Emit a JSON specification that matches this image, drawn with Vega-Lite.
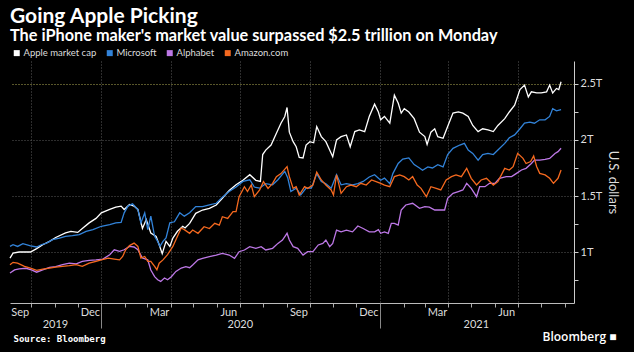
{
  "$schema": "https://vega.github.io/schema/vega-lite/v6.json",
  "width": 564,
  "height": 242,
  "autosize": {"type": "none"},
  "padding": {"left": 10, "top": 61, "right": 60, "bottom": 49},
  "background": "#000000",
  "config": {"view": {"stroke": null}, "font": "Lato"},
  "title": {
    "text": "Going Apple Picking",
    "subtitle": "The iPhone maker's market value surpassed $2.5 trillion on Monday",
    "anchor": "start",
    "frame": "group",
    "color": "#ffffff",
    "font": "Lato",
    "fontSize": 21,
    "fontWeight": "bold",
    "subtitleColor": "#ffffff",
    "subtitleFont": "Lato",
    "subtitleFontSize": 16.3,
    "subtitleFontWeight": "bold",
    "subtitlePadding": 1,
    "offset": 3.5
  },
  "resolve": {"axis": {"x": "independent"}},
  "layer": [
    {
      "data": {"values": [
        {"d":"2019-09-03","s":"Apple market cap","v":0.946},{"d":"2019-09-07","s":"Apple market cap","v":0.99},{"d":"2019-09-15","s":"Apple market cap","v":1.0},{"d":"2019-09-30","s":"Apple market cap","v":1.0},{"d":"2019-10-08","s":"Apple market cap","v":1.03},{"d":"2019-10-16","s":"Apple market cap","v":1.065},{"d":"2019-10-25","s":"Apple market cap","v":1.095},{"d":"2019-11-02","s":"Apple market cap","v":1.13},{"d":"2019-11-15","s":"Apple market cap","v":1.17},{"d":"2019-11-22","s":"Apple market cap","v":1.185},{"d":"2019-12-01","s":"Apple market cap","v":1.175},{"d":"2019-12-07","s":"Apple market cap","v":1.21},{"d":"2019-12-16","s":"Apple market cap","v":1.26},{"d":"2019-12-25","s":"Apple market cap","v":1.30},{"d":"2020-01-01","s":"Apple market cap","v":1.35},{"d":"2020-01-12","s":"Apple market cap","v":1.38},{"d":"2020-01-20","s":"Apple market cap","v":1.40},{"d":"2020-01-27","s":"Apple market cap","v":1.41},{"d":"2020-01-31","s":"Apple market cap","v":1.38},{"d":"2020-02-07","s":"Apple market cap","v":1.425},{"d":"2020-02-13","s":"Apple market cap","v":1.41},{"d":"2020-02-18","s":"Apple market cap","v":1.38},{"d":"2020-02-24","s":"Apple market cap","v":1.21},{"d":"2020-02-29","s":"Apple market cap","v":1.29},{"d":"2020-03-06","s":"Apple market cap","v":1.17},{"d":"2020-03-13","s":"Apple market cap","v":1.14},{"d":"2020-03-17","s":"Apple market cap","v":1.065},{"d":"2020-03-21","s":"Apple market cap","v":0.985},{"d":"2020-03-26","s":"Apple market cap","v":1.095},{"d":"2020-03-31","s":"Apple market cap","v":1.05},{"d":"2020-04-04","s":"Apple market cap","v":1.125},{"d":"2020-04-10","s":"Apple market cap","v":1.185},{"d":"2020-04-17","s":"Apple market cap","v":1.23},{"d":"2020-04-20","s":"Apple market cap","v":1.215},{"d":"2020-04-26","s":"Apple market cap","v":1.256},{"d":"2020-05-04","s":"Apple market cap","v":1.345},{"d":"2020-05-13","s":"Apple market cap","v":1.375},{"d":"2020-05-22","s":"Apple market cap","v":1.39},{"d":"2020-05-31","s":"Apple market cap","v":1.42},{"d":"2020-06-08","s":"Apple market cap","v":1.48},{"d":"2020-06-17","s":"Apple market cap","v":1.55},{"d":"2020-06-26","s":"Apple market cap","v":1.60},{"d":"2020-07-05","s":"Apple market cap","v":1.64},{"d":"2020-07-14","s":"Apple market cap","v":1.69},{"d":"2020-07-22","s":"Apple market cap","v":1.64},{"d":"2020-07-28","s":"Apple market cap","v":1.63},{"d":"2020-07-31","s":"Apple market cap","v":1.87},{"d":"2020-08-04","s":"Apple market cap","v":1.91},{"d":"2020-08-11","s":"Apple market cap","v":1.955},{"d":"2020-08-18","s":"Apple market cap","v":2.06},{"d":"2020-08-24","s":"Apple market cap","v":2.15},{"d":"2020-08-29","s":"Apple market cap","v":2.21},{"d":"2020-09-01","s":"Apple market cap","v":2.29},{"d":"2020-09-04","s":"Apple market cap","v":2.07},{"d":"2020-09-09","s":"Apple market cap","v":1.985},{"d":"2020-09-13","s":"Apple market cap","v":1.94},{"d":"2020-09-17","s":"Apple market cap","v":1.845},{"d":"2020-09-22","s":"Apple market cap","v":1.84},{"d":"2020-09-26","s":"Apple market cap","v":1.955},{"d":"2020-10-01","s":"Apple market cap","v":1.985},{"d":"2020-10-06","s":"Apple market cap","v":1.975},{"d":"2020-10-10","s":"Apple market cap","v":2.12},{"d":"2020-10-16","s":"Apple market cap","v":2.03},{"d":"2020-10-22","s":"Apple market cap","v":1.985},{"d":"2020-10-27","s":"Apple market cap","v":1.91},{"d":"2020-10-31","s":"Apple market cap","v":1.85},{"d":"2020-11-05","s":"Apple market cap","v":2.0},{"d":"2020-11-11","s":"Apple market cap","v":2.03},{"d":"2020-11-18","s":"Apple market cap","v":2.045},{"d":"2020-11-23","s":"Apple market cap","v":1.94},{"d":"2020-11-29","s":"Apple market cap","v":2.075},{"d":"2020-12-05","s":"Apple market cap","v":2.09},{"d":"2020-12-12","s":"Apple market cap","v":2.075},{"d":"2020-12-18","s":"Apple market cap","v":2.21},{"d":"2020-12-25","s":"Apple market cap","v":2.32},{"d":"2020-12-30","s":"Apple market cap","v":2.25},{"d":"2021-01-02","s":"Apple market cap","v":2.18},{"d":"2021-01-07","s":"Apple market cap","v":2.21},{"d":"2021-01-14","s":"Apple market cap","v":2.15},{"d":"2021-01-20","s":"Apple market cap","v":2.40},{"d":"2021-01-25","s":"Apple market cap","v":2.33},{"d":"2021-01-29","s":"Apple market cap","v":2.24},{"d":"2021-02-02","s":"Apple market cap","v":2.28},{"d":"2021-02-08","s":"Apple market cap","v":2.25},{"d":"2021-02-15","s":"Apple market cap","v":2.19},{"d":"2021-02-22","s":"Apple market cap","v":2.07},{"d":"2021-03-01","s":"Apple market cap","v":2.03},{"d":"2021-03-04","s":"Apple market cap","v":1.96},{"d":"2021-03-09","s":"Apple market cap","v":2.07},{"d":"2021-03-14","s":"Apple market cap","v":2.10},{"d":"2021-03-18","s":"Apple market cap","v":2.03},{"d":"2021-03-25","s":"Apple market cap","v":2.015},{"d":"2021-03-31","s":"Apple market cap","v":2.12},{"d":"2021-04-07","s":"Apple market cap","v":2.24},{"d":"2021-04-14","s":"Apple market cap","v":2.25},{"d":"2021-04-20","s":"Apple market cap","v":2.24},{"d":"2021-04-27","s":"Apple market cap","v":2.21},{"d":"2021-05-03","s":"Apple market cap","v":2.13},{"d":"2021-05-10","s":"Apple market cap","v":2.075},{"d":"2021-05-16","s":"Apple market cap","v":2.10},{"d":"2021-05-23","s":"Apple market cap","v":2.09},{"d":"2021-05-30","s":"Apple market cap","v":2.075},{"d":"2021-06-05","s":"Apple market cap","v":2.13},{"d":"2021-06-14","s":"Apple market cap","v":2.19},{"d":"2021-06-20","s":"Apple market cap","v":2.25},{"d":"2021-06-27","s":"Apple market cap","v":2.31},{"d":"2021-07-04","s":"Apple market cap","v":2.45},{"d":"2021-07-10","s":"Apple market cap","v":2.49},{"d":"2021-07-15","s":"Apple market cap","v":2.385},{"d":"2021-07-19","s":"Apple market cap","v":2.43},{"d":"2021-07-26","s":"Apple market cap","v":2.42},{"d":"2021-08-01","s":"Apple market cap","v":2.42},{"d":"2021-08-08","s":"Apple market cap","v":2.43},{"d":"2021-08-12","s":"Apple market cap","v":2.49},{"d":"2021-08-16","s":"Apple market cap","v":2.42},{"d":"2021-08-21","s":"Apple market cap","v":2.46},{"d":"2021-08-24","s":"Apple market cap","v":2.45},{"d":"2021-08-27","s":"Apple market cap","v":2.52},

        {"d":"2019-09-03","s":"Microsoft","v":1.05},{"d":"2019-09-07","s":"Microsoft","v":1.065},{"d":"2019-09-13","s":"Microsoft","v":1.05},{"d":"2019-09-20","s":"Microsoft","v":1.075},{"d":"2019-09-30","s":"Microsoft","v":1.055},{"d":"2019-10-08","s":"Microsoft","v":1.045},{"d":"2019-10-14","s":"Microsoft","v":1.065},{"d":"2019-10-21","s":"Microsoft","v":1.08},{"d":"2019-10-29","s":"Microsoft","v":1.11},{"d":"2019-11-07","s":"Microsoft","v":1.125},{"d":"2019-11-15","s":"Microsoft","v":1.14},{"d":"2019-11-24","s":"Microsoft","v":1.146},{"d":"2019-12-03","s":"Microsoft","v":1.155},{"d":"2019-12-12","s":"Microsoft","v":1.185},{"d":"2019-12-21","s":"Microsoft","v":1.20},{"d":"2020-01-01","s":"Microsoft","v":1.23},{"d":"2020-01-12","s":"Microsoft","v":1.245},{"d":"2020-01-20","s":"Microsoft","v":1.26},{"d":"2020-01-27","s":"Microsoft","v":1.265},{"d":"2020-01-31","s":"Microsoft","v":1.35},{"d":"2020-02-05","s":"Microsoft","v":1.41},{"d":"2020-02-11","s":"Microsoft","v":1.43},{"d":"2020-02-18","s":"Microsoft","v":1.38},{"d":"2020-02-22","s":"Microsoft","v":1.26},{"d":"2020-02-27","s":"Microsoft","v":1.35},{"d":"2020-03-02","s":"Microsoft","v":1.20},{"d":"2020-03-06","s":"Microsoft","v":1.32},{"d":"2020-03-11","s":"Microsoft","v":1.14},{"d":"2020-03-15","s":"Microsoft","v":1.095},{"d":"2020-03-18","s":"Microsoft","v":1.05},{"d":"2020-03-22","s":"Microsoft","v":1.095},{"d":"2020-03-26","s":"Microsoft","v":1.125},{"d":"2020-03-31","s":"Microsoft","v":1.26},{"d":"2020-04-06","s":"Microsoft","v":1.27},{"d":"2020-04-13","s":"Microsoft","v":1.35},{"d":"2020-04-19","s":"Microsoft","v":1.32},{"d":"2020-04-26","s":"Microsoft","v":1.35},{"d":"2020-05-04","s":"Microsoft","v":1.405},{"d":"2020-05-13","s":"Microsoft","v":1.405},{"d":"2020-05-22","s":"Microsoft","v":1.42},{"d":"2020-05-31","s":"Microsoft","v":1.435},{"d":"2020-06-08","s":"Microsoft","v":1.49},{"d":"2020-06-17","s":"Microsoft","v":1.54},{"d":"2020-06-26","s":"Microsoft","v":1.58},{"d":"2020-07-05","s":"Microsoft","v":1.63},{"d":"2020-07-14","s":"Microsoft","v":1.645},{"d":"2020-07-20","s":"Microsoft","v":1.58},{"d":"2020-07-27","s":"Microsoft","v":1.57},{"d":"2020-08-04","s":"Microsoft","v":1.61},{"d":"2020-08-13","s":"Microsoft","v":1.60},{"d":"2020-08-20","s":"Microsoft","v":1.645},{"d":"2020-08-29","s":"Microsoft","v":1.72},{"d":"2020-09-02","s":"Microsoft","v":1.66},{"d":"2020-09-06","s":"Microsoft","v":1.54},{"d":"2020-09-13","s":"Microsoft","v":1.57},{"d":"2020-09-19","s":"Microsoft","v":1.51},{"d":"2020-09-26","s":"Microsoft","v":1.57},{"d":"2020-10-03","s":"Microsoft","v":1.57},{"d":"2020-10-10","s":"Microsoft","v":1.70},{"d":"2020-10-16","s":"Microsoft","v":1.63},{"d":"2020-10-22","s":"Microsoft","v":1.61},{"d":"2020-10-29","s":"Microsoft","v":1.57},{"d":"2020-11-05","s":"Microsoft","v":1.69},{"d":"2020-11-11","s":"Microsoft","v":1.60},{"d":"2020-11-18","s":"Microsoft","v":1.61},{"d":"2020-11-26","s":"Microsoft","v":1.60},{"d":"2020-12-03","s":"Microsoft","v":1.61},{"d":"2020-12-10","s":"Microsoft","v":1.63},{"d":"2020-12-18","s":"Microsoft","v":1.67},{"d":"2020-12-25","s":"Microsoft","v":1.69},{"d":"2021-01-02","s":"Microsoft","v":1.64},{"d":"2021-01-07","s":"Microsoft","v":1.66},{"d":"2021-01-14","s":"Microsoft","v":1.61},{"d":"2021-01-18","s":"Microsoft","v":1.70},{"d":"2021-01-25","s":"Microsoft","v":1.79},{"d":"2021-01-31","s":"Microsoft","v":1.83},{"d":"2021-02-08","s":"Microsoft","v":1.84},{"d":"2021-02-15","s":"Microsoft","v":1.78},{"d":"2021-02-22","s":"Microsoft","v":1.75},{"d":"2021-02-26","s":"Microsoft","v":1.73},{"d":"2021-03-05","s":"Microsoft","v":1.76},{"d":"2021-03-11","s":"Microsoft","v":1.75},{"d":"2021-03-18","s":"Microsoft","v":1.78},{"d":"2021-03-25","s":"Microsoft","v":1.76},{"d":"2021-03-31","s":"Microsoft","v":1.87},{"d":"2021-04-07","s":"Microsoft","v":1.925},{"d":"2021-04-16","s":"Microsoft","v":1.955},{"d":"2021-04-22","s":"Microsoft","v":1.97},{"d":"2021-04-27","s":"Microsoft","v":1.91},{"d":"2021-05-03","s":"Microsoft","v":1.88},{"d":"2021-05-10","s":"Microsoft","v":1.82},{"d":"2021-05-16","s":"Microsoft","v":1.87},{"d":"2021-05-23","s":"Microsoft","v":1.88},{"d":"2021-05-30","s":"Microsoft","v":1.87},{"d":"2021-06-05","s":"Microsoft","v":1.91},{"d":"2021-06-14","s":"Microsoft","v":1.97},{"d":"2021-06-20","s":"Microsoft","v":2.02},{"d":"2021-06-27","s":"Microsoft","v":2.045},{"d":"2021-07-04","s":"Microsoft","v":2.10},{"d":"2021-07-10","s":"Microsoft","v":2.15},{"d":"2021-07-17","s":"Microsoft","v":2.16},{"d":"2021-07-23","s":"Microsoft","v":2.15},{"d":"2021-07-30","s":"Microsoft","v":2.18},{"d":"2021-08-06","s":"Microsoft","v":2.18},{"d":"2021-08-12","s":"Microsoft","v":2.21},{"d":"2021-08-16","s":"Microsoft","v":2.28},{"d":"2021-08-21","s":"Microsoft","v":2.26},{"d":"2021-08-27","s":"Microsoft","v":2.27},

        {"d":"2019-09-03","s":"Alphabet","v":0.8125},{"d":"2019-09-09","s":"Alphabet","v":0.84},{"d":"2019-09-15","s":"Alphabet","v":0.85},{"d":"2019-09-24","s":"Alphabet","v":0.855},{"d":"2019-10-01","s":"Alphabet","v":0.84},{"d":"2019-10-08","s":"Alphabet","v":0.82},{"d":"2019-10-16","s":"Alphabet","v":0.84},{"d":"2019-10-25","s":"Alphabet","v":0.863},{"d":"2019-11-02","s":"Alphabet","v":0.87},{"d":"2019-11-11","s":"Alphabet","v":0.887},{"d":"2019-11-20","s":"Alphabet","v":0.90},{"d":"2019-11-29","s":"Alphabet","v":0.895},{"d":"2019-12-07","s":"Alphabet","v":0.917},{"d":"2019-12-16","s":"Alphabet","v":0.925},{"d":"2019-12-25","s":"Alphabet","v":0.93},{"d":"2020-01-03","s":"Alphabet","v":0.937},{"d":"2020-01-12","s":"Alphabet","v":0.976},{"d":"2020-01-18","s":"Alphabet","v":1.02},{"d":"2020-01-25","s":"Alphabet","v":1.006},{"d":"2020-01-31","s":"Alphabet","v":1.02},{"d":"2020-02-07","s":"Alphabet","v":1.05},{"d":"2020-02-13","s":"Alphabet","v":1.045},{"d":"2020-02-18","s":"Alphabet","v":1.02},{"d":"2020-02-24","s":"Alphabet","v":0.946},{"d":"2020-03-02","s":"Alphabet","v":0.93},{"d":"2020-03-06","s":"Alphabet","v":0.84},{"d":"2020-03-11","s":"Alphabet","v":0.78},{"d":"2020-03-15","s":"Alphabet","v":0.753},{"d":"2020-03-19","s":"Alphabet","v":0.738},{"d":"2020-03-24","s":"Alphabet","v":0.768},{"d":"2020-03-28","s":"Alphabet","v":0.753},{"d":"2020-04-02","s":"Alphabet","v":0.78},{"d":"2020-04-08","s":"Alphabet","v":0.827},{"d":"2020-04-15","s":"Alphabet","v":0.857},{"d":"2020-04-21","s":"Alphabet","v":0.87},{"d":"2020-04-26","s":"Alphabet","v":0.86},{"d":"2020-04-30","s":"Alphabet","v":0.884},{"d":"2020-05-07","s":"Alphabet","v":0.93},{"d":"2020-05-13","s":"Alphabet","v":0.943},{"d":"2020-05-22","s":"Alphabet","v":0.958},{"d":"2020-05-31","s":"Alphabet","v":0.973},{"d":"2020-06-08","s":"Alphabet","v":0.988},{"d":"2020-06-17","s":"Alphabet","v":0.973},{"d":"2020-06-24","s":"Alphabet","v":0.943},{"d":"2020-06-30","s":"Alphabet","v":1.003},{"d":"2020-07-07","s":"Alphabet","v":1.018},{"d":"2020-07-14","s":"Alphabet","v":1.048},{"d":"2020-07-22","s":"Alphabet","v":1.033},{"d":"2020-07-29","s":"Alphabet","v":1.048},{"d":"2020-08-04","s":"Alphabet","v":1.018},{"d":"2020-08-13","s":"Alphabet","v":1.033},{"d":"2020-08-20","s":"Alphabet","v":1.077},{"d":"2020-08-26","s":"Alphabet","v":1.107},{"d":"2020-09-01","s":"Alphabet","v":1.167},{"d":"2020-09-04","s":"Alphabet","v":1.107},{"d":"2020-09-09","s":"Alphabet","v":1.048},{"d":"2020-09-15","s":"Alphabet","v":1.033},{"d":"2020-09-22","s":"Alphabet","v":0.973},{"d":"2020-09-28","s":"Alphabet","v":1.003},{"d":"2020-10-05","s":"Alphabet","v":1.003},{"d":"2020-10-12","s":"Alphabet","v":1.063},{"d":"2020-10-18","s":"Alphabet","v":1.077},{"d":"2020-10-22","s":"Alphabet","v":1.107},{"d":"2020-10-27","s":"Alphabet","v":1.048},{"d":"2020-10-31","s":"Alphabet","v":1.077},{"d":"2020-11-05","s":"Alphabet","v":1.196},{"d":"2020-11-11","s":"Alphabet","v":1.18},{"d":"2020-11-18","s":"Alphabet","v":1.196},{"d":"2020-11-26","s":"Alphabet","v":1.18},{"d":"2020-12-03","s":"Alphabet","v":1.232},{"d":"2020-12-10","s":"Alphabet","v":1.21},{"d":"2020-12-18","s":"Alphabet","v":1.18},{"d":"2020-12-25","s":"Alphabet","v":1.18},{"d":"2020-12-30","s":"Alphabet","v":1.2},{"d":"2021-01-02","s":"Alphabet","v":1.167},{"d":"2021-01-07","s":"Alphabet","v":1.18},{"d":"2021-01-12","s":"Alphabet","v":1.167},{"d":"2021-01-16","s":"Alphabet","v":1.256},{"d":"2021-01-20","s":"Alphabet","v":1.256},{"d":"2021-01-25","s":"Alphabet","v":1.24},{"d":"2021-01-29","s":"Alphabet","v":1.375},{"d":"2021-02-04","s":"Alphabet","v":1.42},{"d":"2021-02-13","s":"Alphabet","v":1.435},{"d":"2021-02-22","s":"Alphabet","v":1.39},{"d":"2021-03-01","s":"Alphabet","v":1.405},{"d":"2021-03-07","s":"Alphabet","v":1.40},{"d":"2021-03-14","s":"Alphabet","v":1.375},{"d":"2021-03-20","s":"Alphabet","v":1.375},{"d":"2021-03-27","s":"Alphabet","v":1.375},{"d":"2021-03-31","s":"Alphabet","v":1.48},{"d":"2021-04-07","s":"Alphabet","v":1.524},{"d":"2021-04-14","s":"Alphabet","v":1.54},{"d":"2021-04-20","s":"Alphabet","v":1.554},{"d":"2021-04-25","s":"Alphabet","v":1.613},{"d":"2021-05-01","s":"Alphabet","v":1.568},{"d":"2021-05-08","s":"Alphabet","v":1.494},{"d":"2021-05-12","s":"Alphabet","v":1.583},{"d":"2021-05-19","s":"Alphabet","v":1.583},{"d":"2021-05-25","s":"Alphabet","v":1.613},{"d":"2021-06-01","s":"Alphabet","v":1.613},{"d":"2021-06-07","s":"Alphabet","v":1.658},{"d":"2021-06-16","s":"Alphabet","v":1.673},{"d":"2021-06-23","s":"Alphabet","v":1.673},{"d":"2021-06-29","s":"Alphabet","v":1.70},{"d":"2021-07-06","s":"Alphabet","v":1.732},{"d":"2021-07-12","s":"Alphabet","v":1.747},{"d":"2021-07-19","s":"Alphabet","v":1.79},{"d":"2021-07-23","s":"Alphabet","v":1.82},{"d":"2021-07-30","s":"Alphabet","v":1.82},{"d":"2021-08-06","s":"Alphabet","v":1.827},{"d":"2021-08-12","s":"Alphabet","v":1.836},{"d":"2021-08-19","s":"Alphabet","v":1.88},{"d":"2021-08-23","s":"Alphabet","v":1.896},{"d":"2021-08-27","s":"Alphabet","v":1.926},

        {"d":"2019-09-03","s":"Amazon.com","v":0.887},{"d":"2019-09-07","s":"Amazon.com","v":0.908},{"d":"2019-09-13","s":"Amazon.com","v":0.90},{"d":"2019-09-22","s":"Amazon.com","v":0.872},{"d":"2019-09-30","s":"Amazon.com","v":0.857},{"d":"2019-10-08","s":"Amazon.com","v":0.836},{"d":"2019-10-16","s":"Amazon.com","v":0.848},{"d":"2019-10-25","s":"Amazon.com","v":0.857},{"d":"2019-11-02","s":"Amazon.com","v":0.866},{"d":"2019-11-11","s":"Amazon.com","v":0.872},{"d":"2019-11-20","s":"Amazon.com","v":0.878},{"d":"2019-11-29","s":"Amazon.com","v":0.887},{"d":"2019-12-07","s":"Amazon.com","v":0.872},{"d":"2019-12-16","s":"Amazon.com","v":0.90},{"d":"2019-12-25","s":"Amazon.com","v":0.917},{"d":"2020-01-01","s":"Amazon.com","v":0.93},{"d":"2020-01-10","s":"Amazon.com","v":0.946},{"d":"2020-01-18","s":"Amazon.com","v":0.937},{"d":"2020-01-25","s":"Amazon.com","v":0.93},{"d":"2020-01-29","s":"Amazon.com","v":0.96},{"d":"2020-02-02","s":"Amazon.com","v":1.02},{"d":"2020-02-07","s":"Amazon.com","v":1.057},{"d":"2020-02-13","s":"Amazon.com","v":1.08},{"d":"2020-02-18","s":"Amazon.com","v":1.05},{"d":"2020-02-22","s":"Amazon.com","v":0.946},{"d":"2020-02-27","s":"Amazon.com","v":0.96},{"d":"2020-03-02","s":"Amazon.com","v":0.917},{"d":"2020-03-06","s":"Amazon.com","v":0.917},{"d":"2020-03-11","s":"Amazon.com","v":0.872},{"d":"2020-03-14","s":"Amazon.com","v":0.842},{"d":"2020-03-17","s":"Amazon.com","v":0.90},{"d":"2020-03-22","s":"Amazon.com","v":0.93},{"d":"2020-03-28","s":"Amazon.com","v":0.976},{"d":"2020-04-04","s":"Amazon.com","v":1.05},{"d":"2020-04-10","s":"Amazon.com","v":1.14},{"d":"2020-04-15","s":"Amazon.com","v":1.214},{"d":"2020-04-19","s":"Amazon.com","v":1.20},{"d":"2020-04-26","s":"Amazon.com","v":1.167},{"d":"2020-04-30","s":"Amazon.com","v":1.196},{"d":"2020-05-07","s":"Amazon.com","v":1.167},{"d":"2020-05-15","s":"Amazon.com","v":1.226},{"d":"2020-05-22","s":"Amazon.com","v":1.21},{"d":"2020-05-29","s":"Amazon.com","v":1.256},{"d":"2020-06-04","s":"Amazon.com","v":1.24},{"d":"2020-06-08","s":"Amazon.com","v":1.315},{"d":"2020-06-15","s":"Amazon.com","v":1.30},{"d":"2020-06-22","s":"Amazon.com","v":1.36},{"d":"2020-06-26","s":"Amazon.com","v":1.36},{"d":"2020-06-30","s":"Amazon.com","v":1.494},{"d":"2020-07-07","s":"Amazon.com","v":1.583},{"d":"2020-07-11","s":"Amazon.com","v":1.54},{"d":"2020-07-16","s":"Amazon.com","v":1.598},{"d":"2020-07-20","s":"Amazon.com","v":1.494},{"d":"2020-07-27","s":"Amazon.com","v":1.554},{"d":"2020-08-01","s":"Amazon.com","v":1.628},{"d":"2020-08-07","s":"Amazon.com","v":1.568},{"d":"2020-08-13","s":"Amazon.com","v":1.613},{"d":"2020-08-18","s":"Amazon.com","v":1.673},{"d":"2020-08-24","s":"Amazon.com","v":1.70},{"d":"2020-09-01","s":"Amazon.com","v":1.762},{"d":"2020-09-04","s":"Amazon.com","v":1.673},{"d":"2020-09-09","s":"Amazon.com","v":1.568},{"d":"2020-09-13","s":"Amazon.com","v":1.583},{"d":"2020-09-17","s":"Amazon.com","v":1.509},{"d":"2020-09-24","s":"Amazon.com","v":1.583},{"d":"2020-09-28","s":"Amazon.com","v":1.568},{"d":"2020-10-05","s":"Amazon.com","v":1.598},{"d":"2020-10-10","s":"Amazon.com","v":1.714},{"d":"2020-10-16","s":"Amazon.com","v":1.643},{"d":"2020-10-22","s":"Amazon.com","v":1.598},{"d":"2020-10-29","s":"Amazon.com","v":1.554},{"d":"2020-11-01","s":"Amazon.com","v":1.509},{"d":"2020-11-05","s":"Amazon.com","v":1.688},{"d":"2020-11-11","s":"Amazon.com","v":1.524},{"d":"2020-11-18","s":"Amazon.com","v":1.583},{"d":"2020-11-24","s":"Amazon.com","v":1.598},{"d":"2020-12-01","s":"Amazon.com","v":1.583},{"d":"2020-12-07","s":"Amazon.com","v":1.613},{"d":"2020-12-14","s":"Amazon.com","v":1.598},{"d":"2020-12-21","s":"Amazon.com","v":1.643},{"d":"2020-12-27","s":"Amazon.com","v":1.628},{"d":"2021-01-02","s":"Amazon.com","v":1.613},{"d":"2021-01-07","s":"Amazon.com","v":1.598},{"d":"2021-01-14","s":"Amazon.com","v":1.583},{"d":"2021-01-20","s":"Amazon.com","v":1.673},{"d":"2021-01-27","s":"Amazon.com","v":1.688},{"d":"2021-02-02","s":"Amazon.com","v":1.673},{"d":"2021-02-08","s":"Amazon.com","v":1.643},{"d":"2021-02-13","s":"Amazon.com","v":1.673},{"d":"2021-02-19","s":"Amazon.com","v":1.598},{"d":"2021-02-24","s":"Amazon.com","v":1.568},{"d":"2021-03-03","s":"Amazon.com","v":1.494},{"d":"2021-03-09","s":"Amazon.com","v":1.583},{"d":"2021-03-16","s":"Amazon.com","v":1.568},{"d":"2021-03-22","s":"Amazon.com","v":1.554},{"d":"2021-03-29","s":"Amazon.com","v":1.643},{"d":"2021-04-05","s":"Amazon.com","v":1.673},{"d":"2021-04-11","s":"Amazon.com","v":1.688},{"d":"2021-04-18","s":"Amazon.com","v":1.673},{"d":"2021-04-25","s":"Amazon.com","v":1.747},{"d":"2021-05-01","s":"Amazon.com","v":1.658},{"d":"2021-05-08","s":"Amazon.com","v":1.598},{"d":"2021-05-14","s":"Amazon.com","v":1.643},{"d":"2021-05-21","s":"Amazon.com","v":1.658},{"d":"2021-05-30","s":"Amazon.com","v":1.598},{"d":"2021-06-05","s":"Amazon.com","v":1.628},{"d":"2021-06-14","s":"Amazon.com","v":1.747},{"d":"2021-06-20","s":"Amazon.com","v":1.732},{"d":"2021-06-25","s":"Amazon.com","v":1.762},{"d":"2021-07-01","s":"Amazon.com","v":1.881},{"d":"2021-07-08","s":"Amazon.com","v":1.836},{"d":"2021-07-12","s":"Amazon.com","v":1.79},{"d":"2021-07-18","s":"Amazon.com","v":1.807},{"d":"2021-07-22","s":"Amazon.com","v":1.857},{"d":"2021-07-26","s":"Amazon.com","v":1.762},{"d":"2021-07-30","s":"Amazon.com","v":1.702},{"d":"2021-08-06","s":"Amazon.com","v":1.688},{"d":"2021-08-12","s":"Amazon.com","v":1.658},{"d":"2021-08-17","s":"Amazon.com","v":1.613},{"d":"2021-08-23","s":"Amazon.com","v":1.658},{"d":"2021-08-27","s":"Amazon.com","v":1.732}
      ]},
      "mark": {"type": "line", "strokeWidth": 1.3, "interpolate": "linear"},
      "encoding": {
        "x": {
          "field": "d", "type": "temporal",
          "scale": {"type": "utc", "domain": ["2019-09-03", "2021-09-13"]},
          "axis": {
            "orient": "bottom",
            "title": "Bloomberg \u25a0",
            "titleX": 532, "titleY": 37, "titleAlign": "left", "titleBaseline": "alphabetic",
            "titleColor": "#ffffff", "titleFont": "Open Sans", "titleFontSize": 12, "titleFontWeight": 600,
            "values": [
              {"year": 2019, "month": 10, "date": 1, "utc": true}, {"year": 2019, "month": 11, "date": 1, "utc": true}, {"year": 2019, "month": 12, "date": 1, "utc": true},
              {"year": 2020, "month": 1, "date": 1, "utc": true}, {"year": 2020, "month": 2, "date": 1, "utc": true}, {"year": 2020, "month": 3, "date": 1, "utc": true},
              {"year": 2020, "month": 4, "date": 1, "utc": true}, {"year": 2020, "month": 5, "date": 1, "utc": true}, {"year": 2020, "month": 6, "date": 1, "utc": true},
              {"year": 2020, "month": 7, "date": 1, "utc": true}, {"year": 2020, "month": 8, "date": 1, "utc": true}, {"year": 2020, "month": 9, "date": 1, "utc": true},
              {"year": 2020, "month": 10, "date": 1, "utc": true}, {"year": 2020, "month": 11, "date": 1, "utc": true}, {"year": 2020, "month": 12, "date": 1, "utc": true},
              {"year": 2021, "month": 1, "date": 1, "utc": true}, {"year": 2021, "month": 2, "date": 1, "utc": true}, {"year": 2021, "month": 3, "date": 1, "utc": true},
              {"year": 2021, "month": 4, "date": 1, "utc": true}, {"year": 2021, "month": 5, "date": 1, "utc": true}, {"year": 2021, "month": 6, "date": 1, "utc": true},
              {"year": 2021, "month": 7, "date": 1, "utc": true}, {"year": 2021, "month": 8, "date": 1, "utc": true}, {"year": 2021, "month": 9, "date": 1, "utc": true}
            ],
            "labelExpr": "utcmonth(datum.value)==9?'Sep':utcmonth(datum.value)==0?'Dec':utcmonth(datum.value)==3?'Mar':utcmonth(datum.value)==6?'Jun':''",
            "labelOffset": -11.5,
            "labelFlush": false,
            "labelOverlap": false,
            "labelBound": false,
            "labelColor": "#dddddd",
            "labelFont": "Lato",
            "labelFontSize": 11,
            "labelPadding": -1,
            "tickSize": 4,
            "tickColor": "#aaaaaa",
            "domainColor": "#bbbbbb",
            "grid": true,
            "gridColor": "#5a5a5a",
            "gridDash": [1, 2],
            "gridOpacity": {"condition": {"test": "utcmonth(datum.value)%3==0", "value": 1}, "value": 0}
          }
        },
        "y": {
          "field": "v", "type": "quantitative",
          "scale": {"domain": [0.545, 2.705], "nice": false, "zero": false},
          "axis": {
            "orient": "right",
            "title": "U.S. dollars",
            "titleColor": "#dddddd",
            "titleFont": "Lato",
            "titleFontSize": 13,
            "titleFontWeight": "normal",
            "titlePadding": 4,
            "values": [0.75, 1, 1.25, 1.5, 1.75, 2, 2.25, 2.5],
            "labelExpr": "datum.value%0.5==0 ? datum.value+'T' : ''",
            "labelColor": "#dddddd",
            "labelFont": "Lato",
            "labelFontSize": 11,
            "labelPadding": 2,
            "tickSize": 4,
            "tickColor": "#cccccc",
            "domainColor": "#cccccc",
            "grid": true,
            "gridDash": [1, 2],
            "gridColor": {"condition": {"test": "datum.value==2.5", "value": "#b0ac55"}, "value": "#5a5a5a"},
            "gridOpacity": {"condition": {"test": "datum.value%0.5==0", "value": 1}, "value": 0}
          }
        },
        "color": {
          "field": "s", "type": "nominal",
          "scale": {
            "domain": ["Apple market cap", "Microsoft", "Alphabet", "Amazon.com"],
            "range": ["#ffffff", "#3283d9", "#bd78e6", "#f5691f"]
          },
          "legend": {
            "orient": "none", "legendX": 2, "legendY": -13,
            "direction": "horizontal", "title": null,
            "symbolType": "square", "symbolSize": 36, "symbolStrokeWidth": 0,
            "labelColor": "#dddddd", "labelFont": "Lato", "labelFontSize": 9.5,
            "labelOffset": 2, "columnPadding": 8,
            "encode": {"symbols": {"update": {"fill": {"scale": "color", "field": "value"}, "strokeWidth": {"value": 0}}}}
          }
        }
      }
    },
    {
      "data": {"values": [{"d": "2019-11-01"}, {"d": "2020-07-01"}, {"d": "2021-05-07"}]},
      "mark": {"type": "point", "opacity": 0},
      "encoding": {
        "x": {
          "field": "d", "type": "temporal",
          "scale": {"type": "utc", "domain": ["2019-09-03", "2021-09-13"]},
          "axis": {
            "orient": "bottom",
            "values": [{"year": 2019, "month": 11, "date": 1, "utc": true}, {"year": 2020, "month": 7, "date": 1, "utc": true}, {"year": 2021, "month": 5, "date": 7, "utc": true}],
            "labelExpr": "''+utcyear(datum.value)",
            "domain": false, "ticks": false, "tickSize": 0, "grid": false,
            "labelPadding": 15, "labelFlush": false, "labelOverlap": false,
            "labelColor": "#dddddd", "labelFont": "Lato", "labelFontSize": 11,
            "title": "Source: Bloomberg",
            "titleX": 3, "titleY": 38, "titleAlign": "left", "titleBaseline": "alphabetic",
            "titleColor": "#ffffff", "titleFont": "DejaVu Sans Mono", "titleFontSize": 9, "titleFontWeight": "bold"
          }
        }
      }
    },
    {
      "data": {"values": [{"d": "2020-01-01"}, {"d": "2021-01-01"}]},
      "mark": {"type": "point", "opacity": 0},
      "encoding": {
        "x": {
          "field": "d", "type": "temporal",
          "scale": {"type": "utc", "domain": ["2019-09-03", "2021-09-13"]},
          "axis": {
            "orient": "bottom",
            "values": [{"year": 2020, "month": 1, "date": 1, "utc": true}, {"year": 2021, "month": 1, "date": 1, "utc": true}],
            "labels": false, "domain": false, "grid": false,
            "ticks": true, "tickSize": 25, "tickColor": "#888888",
            "title": null
          }
        }
      }
    }
  ]
}
